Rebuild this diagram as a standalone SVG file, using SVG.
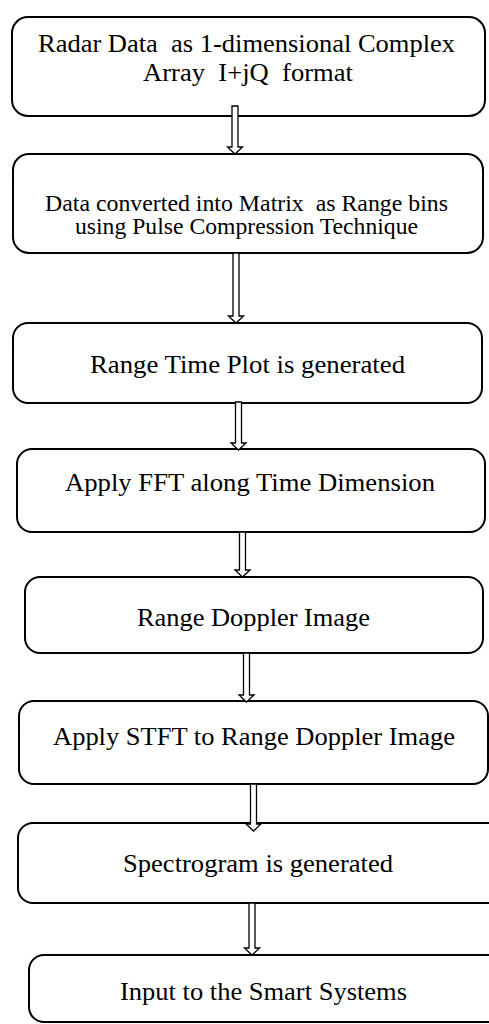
<svg xmlns="http://www.w3.org/2000/svg" width="489" height="1024" viewBox="0 0 489 1024">
  <style>
    .box { fill: #ffffff; stroke: #000000; stroke-width: 2; }
    text { font-family: 'Liberation Serif', 'DejaVu Serif', serif; font-size: 25px; fill: #000000; }
    .sm { font-size: 22.5px; }
    .arr { fill: #ffffff; stroke: #000000; stroke-width: 1.3; stroke-linejoin: miter; }
  </style>
  <rect width="489" height="1024" fill="#ffffff"/>

  <g id="node-radar-data">
    <rect class="box" x="12" y="17" width="473" height="99" rx="16"/>
    <text x="38" y="52" textLength="417" lengthAdjust="spacingAndGlyphs" xml:space="preserve">Radar Data  as 1-dimensional Complex</text>
    <text x="143" y="81" textLength="210" lengthAdjust="spacingAndGlyphs" xml:space="preserve">Array  I+jQ  format</text>
  </g>

  <g id="node-matrix">
    <rect class="box" x="13" y="154" width="470" height="99" rx="16"/>
    <text class="sm" x="45" y="211" textLength="403" lengthAdjust="spacingAndGlyphs" xml:space="preserve">Data converted into Matrix  as Range bins</text>
    <text class="sm" x="75" y="234" textLength="343" lengthAdjust="spacingAndGlyphs">using Pulse Compression Technique</text>
  </g>

  <g id="node-range-time">
    <rect class="box" x="13" y="323" width="469" height="80" rx="15"/>
    <text x="90" y="373" textLength="315" lengthAdjust="spacingAndGlyphs">Range Time Plot is generated</text>
  </g>

  <g id="node-fft">
    <rect class="box" x="17" y="449" width="468" height="83" rx="15"/>
    <text x="65" y="491" textLength="370" lengthAdjust="spacingAndGlyphs">Apply FFT along Time Dimension</text>
  </g>

  <g id="node-range-doppler">
    <rect class="box" x="25" y="577" width="458" height="76" rx="15"/>
    <text x="137" y="626" textLength="233" lengthAdjust="spacingAndGlyphs">Range Doppler Image</text>
  </g>

  <g id="node-stft">
    <rect class="box" x="19" y="701" width="469" height="83" rx="15"/>
    <text x="53" y="745" textLength="402" lengthAdjust="spacingAndGlyphs">Apply STFT to Range Doppler Image</text>
  </g>

  <g id="node-spectrogram">
    <rect class="box" x="18" y="823" width="490" height="80" rx="15"/>
    <text x="123" y="872" textLength="270" lengthAdjust="spacingAndGlyphs">Spectrogram is generated</text>
  </g>

  <g id="node-smart-systems">
    <rect class="box" x="29" y="955" width="480" height="67" rx="15"/>
    <text x="120" y="1000" textLength="287" lengthAdjust="spacingAndGlyphs">Input to the Smart Systems</text>
  </g>

  <!-- hollow block arrows between consecutive steps -->
  <g id="connectors">
    <polygon class="arr" points="232,106 238,106 238,147 242.5,147 235,154 227.5,147 232,147"/>
    <polygon class="arr" points="233,253 239,253 239,316 243.5,316 236,323 228.5,316 233,316"/>
    <polygon class="arr" points="235.5,402 241.5,402 241.5,443 246,443 238.5,450 231,443 235.5,443"/>
    <polygon class="arr" points="239.5,532 245.5,532 245.5,570 250,570 242.5,577 235,570 239.5,570"/>
    <polygon class="arr" points="243.5,653 249.5,653 249.5,695 254,695 246.5,702 239,695 243.5,695"/>
    <polygon class="arr" points="250.5,784 256.5,784 256.5,824 261,824 253.5,831 246,824 250.5,824"/>
    <polygon class="arr" points="249,903 255,903 255,948 259.5,948 252,955 244.5,948 249,948"/>
  </g>
</svg>
